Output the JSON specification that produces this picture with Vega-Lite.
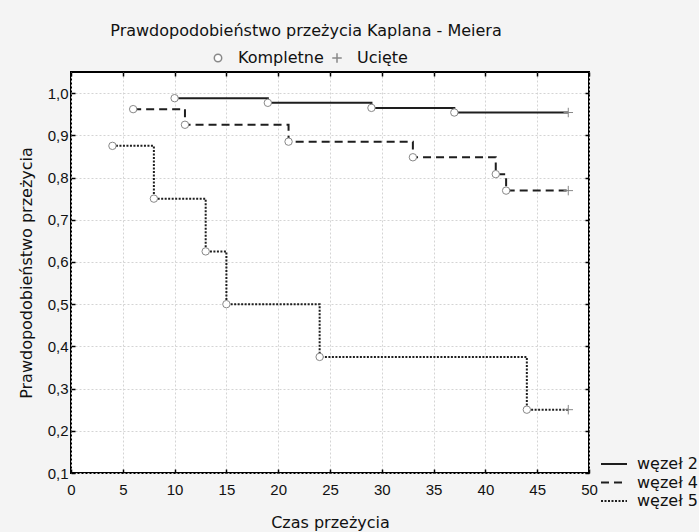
{
  "$schema": "https://vega.github.io/schema/vega-lite/v6.json",
  "width": 518,
  "height": 401,
  "autosize": {"type": "none"},
  "padding": {"left": 71, "top": 72, "right": 110, "bottom": 59},
  "background": "#f4f4f4",
  "title": {
    "text": "Prawdopodobieństwo przeżycia Kaplana - Meiera",
    "font": "DejaVu Sans",
    "fontSize": 16,
    "fontWeight": "normal",
    "color": "#111111",
    "anchor": "middle",
    "frame": "group",
    "dx": -24,
    "offset": 11
  },
  "config": {
    "view": {"fill": "white", "stroke": "black", "strokeWidth": 2},
    "axis": {
      "domain": false,
      "grid": true,
      "gridColor": "#d4d4d4",
      "gridDash": [2, 2],
      "gridWidth": 1,
      "ticks": true,
      "tickSize": -4,
      "tickColor": "black",
      "tickWidth": 1.5,
      "labelFont": "Liberation Sans",
      "labelFontSize": 15,
      "labelColor": "#111111",
      "titleFont": "DejaVu Sans",
      "titleFontSize": 16,
      "titleFontWeight": "normal",
      "titleColor": "#111111"
    }
  },
  "data": {
    "values": [
      {"grupa": "węzeł 2", "czas": 10, "p": 0.988, "typ": "Kompletne"},
      {"grupa": "węzeł 2", "czas": 19, "p": 0.977, "typ": "Kompletne"},
      {"grupa": "węzeł 2", "czas": 29, "p": 0.965, "typ": "Kompletne"},
      {"grupa": "węzeł 2", "czas": 37, "p": 0.954, "typ": "Kompletne"},
      {"grupa": "węzeł 2", "czas": 48, "p": 0.954, "typ": "Ucięte"},
      {"grupa": "węzeł 4", "czas": 6, "p": 0.962, "typ": "Kompletne"},
      {"grupa": "węzeł 4", "czas": 11, "p": 0.925, "typ": "Kompletne"},
      {"grupa": "węzeł 4", "czas": 21, "p": 0.885, "typ": "Kompletne"},
      {"grupa": "węzeł 4", "czas": 33, "p": 0.848, "typ": "Kompletne"},
      {"grupa": "węzeł 4", "czas": 41, "p": 0.808, "typ": "Kompletne"},
      {"grupa": "węzeł 4", "czas": 42, "p": 0.769, "typ": "Kompletne"},
      {"grupa": "węzeł 4", "czas": 48, "p": 0.769, "typ": "Ucięte"},
      {"grupa": "węzeł 5", "czas": 4, "p": 0.875, "typ": "Kompletne"},
      {"grupa": "węzeł 5", "czas": 8, "p": 0.75, "typ": "Kompletne"},
      {"grupa": "węzeł 5", "czas": 13, "p": 0.625, "typ": "Kompletne"},
      {"grupa": "węzeł 5", "czas": 15, "p": 0.5, "typ": "Kompletne"},
      {"grupa": "węzeł 5", "czas": 24, "p": 0.375, "typ": "Kompletne"},
      {"grupa": "węzeł 5", "czas": 44, "p": 0.25, "typ": "Kompletne"},
      {"grupa": "węzeł 5", "czas": 48, "p": 0.25, "typ": "Ucięte"}
    ]
  },
  "layer": [
    {
      "mark": {"type": "line", "interpolate": "step-after", "color": "#1e1e1e", "strokeWidth": 2},
      "encoding": {
        "x": {
          "field": "czas", "type": "quantitative",
          "scale": {"domain": [0, 50], "nice": false, "zero": false},
          "axis": {"title": "Czas przeżycia", "values": [0,5,10,15,20,25,30,35,40,45,50], "labelPadding": 13, "titlePadding": 17, "labelFlush": false}
        },
        "y": {
          "field": "p", "type": "quantitative",
          "scale": {"domain": [0.1, 1.05], "nice": false, "zero": false},
          "axis": {"title": "Prawdopodobieństwo przeżycia", "values": [0.1,0.2,0.3,0.4,0.5,0.6,0.7,0.8,0.9,1.0], "labelExpr": "replace(format(datum.value, '.1f'), '.', ',')", "labelPadding": 7, "titlePadding": 13, "labelFlush": false}
        },
        "strokeDash": {
          "field": "grupa", "type": "nominal",
          "scale": {"domain": ["węzeł 2", "węzeł 4", "węzeł 5"], "range": [[1, 0], [8, 5], [2, 1.5]]},
          "legend": {
            "title": null,
            "orient": "none",
            "legendX": 535,
            "legendY": 384,
            "padding": 0,
            "symbolType": "M-2,0L2,0",
            "symbolSize": 169,
            "symbolStrokeWidth": 2,
            "symbolStrokeColor": "#1e1e1e",
            "labelOffset": 15,
            "labelFont": "DejaVu Sans",
            "labelFontSize": 16,
            "labelColor": "#111111",
            "rowPadding": 2.5,
            "symbolDash": [6, 4]
          }
        }
      }
    },
    {
      "mark": {"type": "point", "fill": "white", "stroke": "#888888", "strokeWidth": 1, "opacity": 1},
      "encoding": {
        "x": {"field": "czas", "type": "quantitative", "axis": null},
        "y": {"field": "p", "type": "quantitative", "axis": null},
        "shape": {
          "field": "typ", "type": "nominal",
          "scale": {"domain": ["Kompletne", "Ucięte"], "range": ["circle", "M-1,0L1,0M0,-1L0,1"]},
          "legend": {
            "title": null,
            "orient": "none",
            "direction": "horizontal",
            "legendX": 139,
            "legendY": -22,
            "padding": 0,
            "labelOffset": 12,
            "columnPadding": 5,
            "labelFont": "DejaVu Sans",
            "labelFontSize": 16,
            "labelColor": "#111111",
            "encode": {"symbols": {"update": {"stroke": {"value": "#888888"}, "fill": {"value": "white"}, "strokeWidth": {"value": 1}, "opacity": {"value": 1}}}}
          }
        },
        "size": {
          "field": "typ", "type": "nominal",
          "scale": {"domain": ["Kompletne", "Ucięte"], "range": [55, 90]},
          "legend": {
            "title": null,
            "orient": "none",
            "direction": "horizontal",
            "legendX": 139,
            "legendY": -22,
            "padding": 0,
            "labelOffset": 12,
            "columnPadding": 5,
            "labelFont": "DejaVu Sans",
            "labelFontSize": 16,
            "labelColor": "#111111",
            "encode": {"symbols": {"update": {"stroke": {"value": "#888888"}, "fill": {"value": "white"}, "strokeWidth": {"value": 1}, "opacity": {"value": 1}}}}
          }
        }
      }
    },
    {
      "mark": {"type": "point", "opacity": 0},
      "encoding": {
        "x": {"field": "czas", "type": "quantitative", "axis": {"orient": "top", "title": null, "labels": false, "grid": false, "values": [0,5,10,15,20,25,30,35,40,45,50]}},
        "y": {"field": "p", "type": "quantitative", "axis": {"orient": "right", "title": null, "labels": false, "grid": false, "values": [0.1,0.2,0.3,0.4,0.5,0.6,0.7,0.8,0.9,1.0]}}
      }
    }
  ],
  "resolve": {"axis": {"x": "independent", "y": "independent"}}
}
